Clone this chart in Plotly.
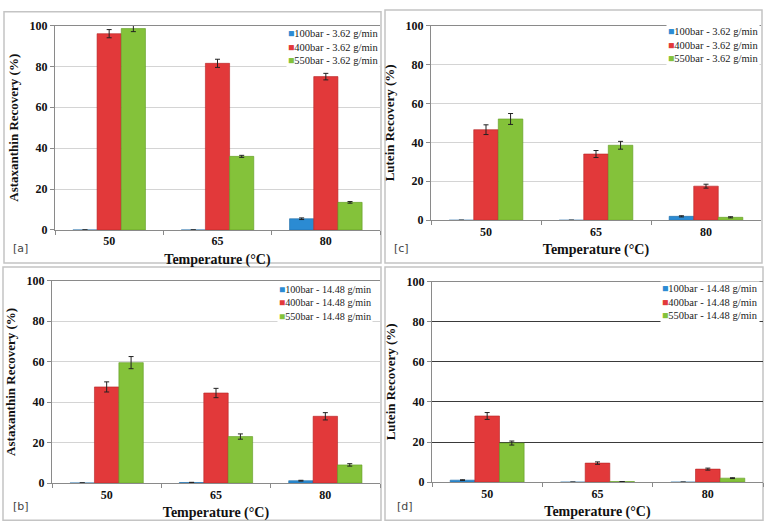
import plotly.graph_objects as go

temps = ["50", "65", "80"]

# Panel [a]: Astaxanthin, 3.62 g/min
a_100 = [0.0, 0.0, 5.5]
a_100_err = [0.0, 0.0, 0.4]
a_400 = [96.0, 81.5, 75.0]
a_400_err = [2.0, 2.0, 1.6]
a_550 = [98.5, 36.0, 13.5]
a_550_err = [1.5, 0.5, 0.4]

# Panel [c]: Lutein, 3.62 g/min
c_100 = [0.0, 0.0, 2.0]
c_100_err = [0.0, 0.0, 0.3]
c_400 = [46.5, 34.0, 17.5]
c_400_err = [2.5, 1.8, 1.0]
c_550 = [52.0, 38.5, 1.5]
c_550_err = [2.8, 2.0, 0.3]

# Panel [b]: Astaxanthin, 14.48 g/min
b_100 = [0.1, 0.3, 1.2]
b_100_err = [0.0, 0.1, 0.2]
b_400 = [47.5, 44.5, 33.0]
b_400_err = [2.5, 2.3, 1.8]
b_550 = [59.5, 23.0, 9.0]
b_550_err = [3.0, 1.3, 0.6]

# Panel [d]: Lutein, 14.48 g/min
d_100 = [1.0, 0.0, 0.0]
d_100_err = [0.2, 0.0, 0.0]
d_400 = [33.0, 9.5, 6.5]
d_400_err = [1.7, 0.6, 0.5]
d_550 = [19.5, 0.3, 2.0]
d_550_err = [1.0, 0.0, 0.2]

names_362 = ["100bar - 3.62 g/min", "400bar - 3.62 g/min", "550bar - 3.62 g/min"]
names_1448 = ["100bar - 14.48 g/min", "400bar - 14.48 g/min", "550bar - 14.48 g/min"]

colors = ["#2b8bd3", "#e2393a", "#84c23a"]
edges = ["#1d6aa5", "#b52424", "#5f9a22"]

SERIF = "Liberation Serif, serif"

panels = [
    ("", [(a_100, a_100_err), (a_400, a_400_err), (a_550, a_550_err)], names_362,
     "Astaxanthin Recovery (%)", "#d4d4d4"),
    ("2", [(c_100, c_100_err), (c_400, c_400_err), (c_550, c_550_err)], names_362,
     "Lutein Recovery (%)", "#d4d4d4"),
    ("3", [(b_100, b_100_err), (b_400, b_400_err), (b_550, b_550_err)], names_1448,
     "Astaxanthin Recovery (%)", "#d4d4d4"),
    ("4", [(d_100, d_100_err), (d_400, d_400_err), (d_550, d_550_err)], names_1448,
     "Lutein Recovery (%)", "#3a3a3a"),
]

W, H = 767, 532
# plot-area pixel boxes: (left, right, top, bottom)
boxes = [(55, 380, 19, 229), (431, 761, 19, 219), (52, 380, 281, 489), (432, 763, 282, 488)]
frames = [(4, 381, 5, 263), (385, 762, 3, 263), (3, 381, 267, 527), (385, 763, 267, 527)]
labels = ["[a]", "[c]", "[b]", "[d]"]
label_pos = [(20, 248), (401, 248), (21, 513), (405, 513)]
legend_pos = [(380, 20), (760, 17), (373, 282), (760, 281)]
legend_size = [10.5, 10.5, 10.2, 10.5]

fig = go.Figure()
layout = dict(
    width=W, height=H,
    margin=dict(l=0, r=0, t=0, b=0),
    paper_bgcolor="white", plot_bgcolor="white",
    font=dict(family=SERIF, color="#111"),
    barmode="group", bargap=0.33, bargroupgap=0.0,
    showlegend=False,
    shapes=[], annotations=[],
)

for (suf, series, names, ytitle, gcol), (l, r, t, b), (fl, fr, ft, fb), lab, (lx, ly), (gx, gy), gs in zip(
        panels, boxes, frames, labels, label_pos, legend_pos, legend_size):
    xa = "x" + suf
    ya = "y" + suf
    for (vals, errs), nm, col, ec in zip(series, names, colors, edges):
        fig.add_trace(go.Bar(
            x=temps, y=vals, name=nm, xaxis=xa, yaxis=ya, showlegend=False,
            marker=dict(color=col, line=dict(color=ec, width=0.6)),
            error_y=dict(type="data", array=errs, visible=True, color="#222", thickness=1, width=2.5),
        ))
    xkey = "xaxis" + suf
    ykey = "yaxis" + suf
    layout[xkey] = dict(
        domain=[l / W, r / W], anchor=ya, type="category",
        showline=True, linecolor="#8a8a8a", linewidth=1, mirror=True,
        ticks="outside", tickson="boundaries", ticklen=4, tickcolor="#8a8a8a",
        tickfont=dict(family=SERIF, size=12, color="#111", weight="bold"),
        title=dict(text="Temperature (°C)", standoff=6,
                   font=dict(family=SERIF, size=14, color="#111", weight="bold")),
        showgrid=False, fixedrange=True,
    )
    layout[ykey] = dict(
        domain=[1 - b / H, 1 - t / H], anchor=xa,
        range=[0, 100], dtick=20, tick0=0,
        showline=True, linecolor="#8a8a8a", linewidth=1,
        ticks="outside", ticklen=4, tickcolor="#8a8a8a",
        showgrid=True, gridcolor=gcol, gridwidth=1, zeroline=False,
        tickfont=dict(family=SERIF, size=12, color="#111", weight="bold"),
        title=dict(text=ytitle, standoff=8,
                   font=dict(family=SERIF, size=13, color="#111", weight="bold")),
        fixedrange=True,
    )
    # legend block (series names with coloured squares)
    legend_text = "<br>".join(
        f"<span style='color:{c}'>■</span>{n}" for n, c in zip(names, colors))
    layout["annotations"].append(dict(
        text=legend_text, xref="paper", yref="paper", x=gx / W, y=1 - gy / H,
        xanchor="right", yanchor="top", align="left", showarrow=False,
        bgcolor="white", borderpad=1,
        font=dict(family=SERIF, size=gs, color="#222"),
    ))
    layout["shapes"].append(dict(
        type="rect", xref="paper", yref="paper",
        x0=fl / W, x1=fr / W, y0=1 - fb / H, y1=1 - ft / H,
        line=dict(color="#c4c4c4", width=1.5), fillcolor="rgba(0,0,0,0)", layer="below",
    ))
    layout["annotations"].append(dict(
        text=lab, xref="paper", yref="paper", x=lx / W, y=1 - ly / H,
        xanchor="center", yanchor="middle", showarrow=False,
        font=dict(family="DejaVu Sans, sans-serif", size=11, color="#444"),
    ))

fig.update_layout(**layout)
fig.write_html("out.html", config={"displayModeBar": False},
               post_script="document.body.style.margin='0';")
